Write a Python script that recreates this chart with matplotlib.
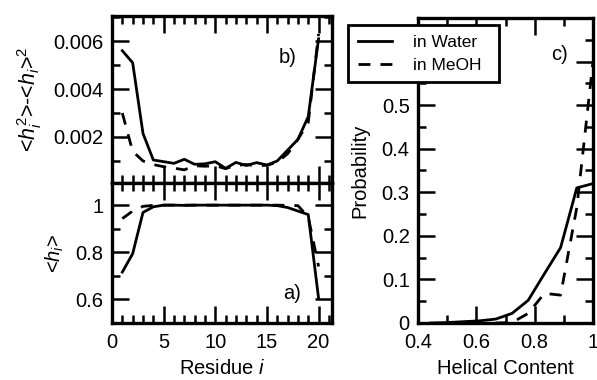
import matplotlib
matplotlib.use("Agg")
import matplotlib.pyplot as plt
from matplotlib.ticker import MultipleLocator, FixedLocator, FixedFormatter
import numpy as np

plt.rcParams['font.family'] = ['Liberation Sans', 'DejaVu Sans']
plt.rcParams['mathtext.fontset'] = 'custom'
plt.rcParams['mathtext.rm'] = 'Liberation Sans'
plt.rcParams['mathtext.it'] = 'Liberation Sans:italic'
plt.rcParams['mathtext.default'] = 'it'

# ---------------- data ----------------
residue = [1, 2, 3, 4, 5, 6, 7, 8, 9, 10, 11, 12, 13, 14, 15, 16, 17, 18, 19, 20]

var_water = [0.0056, 0.0051, 0.00215, 0.00104, 0.00097, 0.00090, 0.00107, 0.00086,
             0.00088, 0.00097, 0.00069, 0.00094, 0.00081, 0.00093, 0.00083, 0.00100,
             0.00145, 0.00190, 0.00285, 0.00610]
var_meoh = [0.0030, 0.0014, 0.0010, 0.00085, 0.00076, 0.00070, 0.00063, 0.00080,
            0.00078, 0.00080, 0.00068, 0.00082, 0.00085, 0.00080, 0.00082, 0.00095,
            0.00130, 0.00190, 0.00260, 0.00630]

h_water = [0.716, 0.794, 0.969, 0.993, 1.0, 1.0, 0.999, 1.0, 1.0, 1.0, 1.0, 1.0,
           1.0, 1.0, 1.0, 0.998, 0.990, 0.975, 0.960, 0.605]
h_meoh = [0.943, 0.975, 0.995, 0.999, 1.0, 1.0, 1.0, 1.0, 1.0, 1.0, 1.0, 1.0,
          1.0, 1.0, 1.0, 1.0, 0.999, 0.998, 0.950, 0.740]

n_helical_water = [8, 9, 10, 11, 12, 13, 14, 15, 16, 17, 18]
prob_water = [0.0, 0.001, 0.003, 0.005, 0.009, 0.022, 0.052, 0.113, 0.173, 0.310, 0.320]
n_helical_meoh = [12, 13, 14, 15, 16, 17, 18]
prob_meoh = [0.0, 0.001, 0.022, 0.068, 0.064, 0.265, 0.600]
n_max = 18

legend_labels = ["in Water", "in MeOH"]

# ---------------- figure ----------------
W, H = 597, 380
fig = plt.figure(figsize=(W / 100, H / 100), dpi=100)

def fx(px):
    return px / W

def fy(py):
    return 1 - py / H

axb = fig.add_axes([fx(112), fy(183), fx(332) - fx(112), fy(16) - fy(183)])
axa = fig.add_axes([fx(112), fy(323), fx(332) - fx(112), fy(183) - fy(323)])
axc = fig.add_axes([fx(418), fy(323), fx(593) - fx(418), fy(18) - fy(323)])

LW = 2.0
DASH = (4.3, 3.6)
FS = 14.5

def style(ax):
    for s in ax.spines.values():
        s.set_linewidth(2.4)
    ax.tick_params(which='both', direction='in', top=True, right=True,
                   width=1.8, labelsize=FS)
    ax.tick_params(which='major', length=12)
    ax.tick_params(which='minor', length=6)
    ax.tick_params(axis='y', pad=6)
    ax.tick_params(axis='x', pad=7)

# panel b
axb.plot(residue, var_water, color='black', lw=LW)
axb.plot(residue, var_meoh, color='black', lw=LW, dashes=DASH)
axb.set_xlim(0, 21.3)
axb.set_ylim(0.00008, 0.00705)
style(axb)
axb.xaxis.set_major_locator(MultipleLocator(5))
axb.xaxis.set_minor_locator(MultipleLocator(1))
axb.set_xticklabels([])
axb.yaxis.set_major_locator(FixedLocator([0.002, 0.004, 0.006]))
axb.yaxis.set_major_formatter(FixedFormatter(["0.002", "0.004", "0.006"]))
axb.yaxis.set_minor_locator(FixedLocator([0.001, 0.003, 0.005, 0.007]))
axb.set_ylabel(r'<$h^{2}_{i}$>-<$h_{i}$>${}^{2}$', fontsize=15.5, labelpad=7)
axb.text(0.80, 0.75, "b)", transform=axb.transAxes, fontsize=FS,
         ha='center', va='center')

# panel a
axa.plot(residue, h_water, color='black', lw=LW)
axa.plot(residue, h_meoh, color='black', lw=LW, dashes=DASH)
axa.set_xlim(0, 21.3)
axa.set_ylim(0.5, 1.094)
style(axa)
axa.xaxis.set_major_locator(MultipleLocator(5))
axa.xaxis.set_minor_locator(MultipleLocator(1))
axa.yaxis.set_major_locator(FixedLocator([0.6, 0.8, 1.0]))
axa.yaxis.set_major_formatter(FixedFormatter(["0.6", "0.8", "1"]))
axa.yaxis.set_minor_locator(FixedLocator([0.5, 0.7, 0.9]))
axa.set_xlabel(r'Residue $i$', fontsize=FS, labelpad=5)
axa.set_ylabel(r'<$h_{i}$>', fontsize=FS, labelpad=7)
axa.text(0.82, 0.21, "a)", transform=axa.transAxes, fontsize=FS,
         ha='center', va='center')

# panel c
xw = np.array(n_helical_water) / n_max
xm = np.array(n_helical_meoh) / n_max
axc.plot(xw, prob_water, color='black', lw=LW, label=legend_labels[0])
axc.plot(xm, prob_meoh, color='black', lw=LW, dashes=DASH, label=legend_labels[1])
axc.set_xlim(0.4, 1.0)
axc.set_ylim(0, 0.7)
style(axc)
axc.xaxis.set_major_locator(FixedLocator([0.4, 0.6, 0.8, 1.0]))
axc.xaxis.set_major_formatter(FixedFormatter(["0.4", "0.6", "0.8", "1"]))
axc.xaxis.set_minor_locator(FixedLocator([0.5, 0.7, 0.9]))
axc.yaxis.set_major_locator(FixedLocator([0, 0.1, 0.2, 0.3, 0.4, 0.5, 0.6]))
axc.yaxis.set_major_formatter(FixedFormatter(["0", "0.1", "0.2", "0.3", "0.4", "0.5", ""]))
axc.yaxis.set_minor_locator(MultipleLocator(0.05))
axc.set_xlabel("Helical Content", fontsize=FS, labelpad=5)
axc.set_ylabel("Probability", fontsize=FS, labelpad=9)
axc.text(0.81, 0.88, "c)", transform=axc.transAxes, fontsize=FS,
         ha='center', va='center')

leg = axc.legend(loc='upper left', bbox_to_anchor=(fx(348), fy(82), fx(499) - fx(348), fy(25) - fy(82)),
                 bbox_transform=fig.transFigure, mode='expand', borderaxespad=0,
                 fontsize=12.5, frameon=True, fancybox=False, handlelength=2.0,
                 handletextpad=1.2, labelspacing=0.45, borderpad=0.55)
leg.get_frame().set_edgecolor('black')
leg.get_frame().set_linewidth(2.0)
leg.get_frame().set_alpha(1)

fig.savefig("out.png", dpi=100)
